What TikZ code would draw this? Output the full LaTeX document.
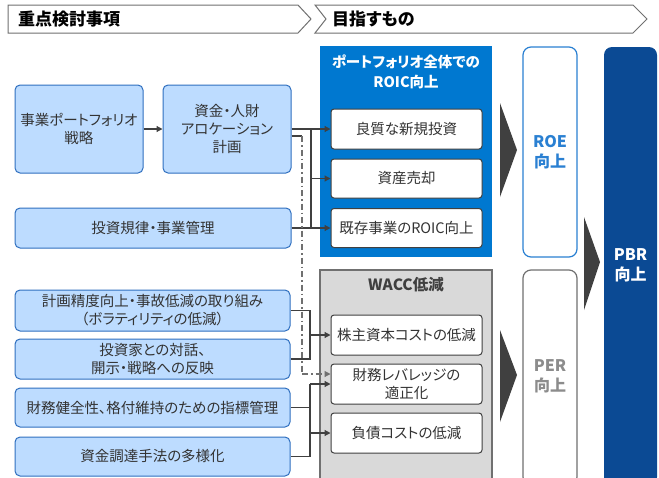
\documentclass[tikz,border=0pt]{standalone}
\usepackage{fontspec}
\setmainfont{Noto Sans CJK JP}[RawFeature=+palt]
\usetikzlibrary{arrows.meta,calc}
\definecolor{lbfill}{HTML}{BDDCFF}
\definecolor{lbdraw}{HTML}{2F6FBF}
\definecolor{panelblue}{HTML}{0078D0}
\definecolor{panelgray}{HTML}{D9D9D9}
\definecolor{graydraw}{HTML}{707070}
\definecolor{conncol}{HTML}{404040}
\definecolor{txtcol}{HTML}{333333}
\definecolor{pbrblue}{HTML}{0B4A94}
\definecolor{roeblue}{HTML}{2A80D2}
\begin{document}
\begin{tikzpicture}[x=1pt,y=-1pt,
  base/.style={inner sep=0pt,align=center,text=txtcol,font=\fontsize{14.5}{18}\selectfont},
  leftbox/.style={base,draw=lbdraw,fill=lbfill,line width=1pt,rounded corners=5pt},
  innerbox/.style={base,draw=conncol,fill=white,line width=1pt,rounded corners=3pt,minimum width=151pt},
  conn/.style={draw=conncol,line width=1.2pt},
  arr/.style={conn,-{Triangle[length=6pt,width=6pt]}},
  dd/.style={draw=graydraw,line width=1.1pt,dash pattern=on 6pt off 3pt on 1.5pt off 3pt},
  ttl/.style={inner sep=0pt,font=\fontsize{15}{19}\selectfont\bfseries,align=center},
  bigarr/.style={fill=conncol,draw=none}]
\useasboundingbox (0,0) rectangle (659,477);

% headers
\draw[draw=graydraw,fill=white,line width=1pt] (8,5) -- (298,5) -- (311,19) -- (298,33) -- (8,33) -- cycle;
\draw[draw=graydraw,fill=white,line width=1pt] (315,5) -- (633,5) -- (647,19) -- (633,33) -- (315,33) -- (326,19) -- cycle;
\node[ttl,anchor=west,text=black,font=\fontsize{17}{19}\selectfont\bfseries] (h1) at (18,19) {重点検討事項};
\node[ttl,anchor=west,text=black,font=\fontsize{17}{19}\selectfont\bfseries] (h2) at (332,19) {目指すもの};

% left boxes
\node[leftbox,minimum width=128pt,minimum height=88pt] (a1) at (79,129) {事業ポートフォリオ\\戦略};
\node[leftbox,minimum width=128pt,minimum height=88pt] (a2) at (227,129) {資金・人財\\アロケーション\\計画};
\node[leftbox,minimum width=276pt,minimum height=40pt] (a3) at (153,228) {投資規律・事業管理};
\node[leftbox,minimum width=275pt,minimum height=41pt] (b1) at (152.5,310.5) {計画精度向上・事故低減の取り組み\\（ボラティリティの低減）};
\node[leftbox,minimum width=275pt,minimum height=40pt] (b2) at (152.5,359) {投資家との対話、\\開示・戦略への反映};
\node[leftbox,minimum width=275pt,minimum height=39pt] (b3) at (152.5,407.5) {財務健全性、格付維持のための指標管理};
\node[leftbox,minimum width=275pt,minimum height=39pt] (b4) at (152.5,456.5) {資金調達手法の多様化};

% blue panel
\node[fill=panelblue,minimum width=172pt,minimum height=211pt,inner sep=0pt] (pb) at (406,151.5) {};
\node[ttl,text=white,font=\fontsize{14.5}{20}\selectfont\bfseries] (pbt) at (406,72) {ポートフォリオ全体での\\ROIC向上};
\node[innerbox,minimum height=40pt] (c1) at (406.5,129) {良質な新規投資};
\node[innerbox,minimum height=39pt] (c2) at (406.5,178.5) {資産売却};
\node[innerbox,minimum height=39pt] (c3) at (406.5,228) {既存事業のROIC向上};

% gray panel
\node[draw=graydraw,fill=panelgray,line width=1.2pt,minimum width=172pt,minimum height=212pt,inner sep=0pt] (pg) at (406,376) {};
\node[ttl,text=conncol,font=\fontsize{15.5}{19}\selectfont\bfseries] (pgt) at (406,285) {WACC低減};
\node[innerbox,minimum height=40pt] (d1) at (406.5,335) {株主資本コストの低減};
\node[innerbox,minimum height=40pt] (d2) at (406.5,384) {財務レバレッジの\\適正化};
\node[innerbox,minimum height=40pt] (d3) at (406.5,433) {負債コストの低減};

% right boxes
\node[draw=roeblue,fill=white,line width=1.2pt,rounded corners=8pt,minimum width=54pt,minimum height=210pt,inner sep=0pt] (roe) at (550,152) {};
\node[ttl,text=roeblue,font=\fontsize{16}{20}\selectfont\bfseries] (roet) at (550,152) {ROE\\向上};
\node[draw=graydraw,fill=white,line width=1.2pt,rounded corners=8pt,minimum width=54pt,minimum height=215pt,inner sep=0pt] (per) at (550,377.5) {};
\node[ttl,text=black!45,font=\fontsize{16}{20}\selectfont\bfseries] (pert) at (550,376) {PER\\向上};
\node[fill=pbrblue,rounded corners=8pt,minimum width=53pt,minimum height=438pt,inner sep=0pt] (pbr) at (630.5,266) {};
\node[ttl,text=white,font=\fontsize{16}{20}\selectfont\bfseries] (pbrt) at (630.5,265) {PBR\\向上};

% big arrows
\fill[bigarr] (500,103) -- (517,150) -- (500,197) -- cycle;
\fill[bigarr] (500,330) -- (517,375) -- (500,422) -- cycle;
\fill[bigarr] (584,217) -- (600,262) -- (584,310) -- cycle;

% connectors upper
\coordinate (j1) at (311,129);
\draw[arr] (a1) -- (a2);
\draw[arr] (a2.east) -- (c1.west);
\draw[arr] (a3.east) -- (c3.west);
\draw[conn] (j1) -- (j1 |- c3.west);
\draw[arr] (j1 |- c2.west) -- (c2.west);

% dash-dot connector
\coordinate (k1) at ([yshift=-7pt]a2.east);
\coordinate (k2) at (302,374);
\draw[conn] (k1) -- (k1 -| k2);
\draw[dd] (k1 -| k2) -- (k2);
\draw[dd,-{Triangle[length=6pt,width=6pt]}] (k2) -- ([yshift=10pt]d2.west);

% connectors lower
\coordinate (j2) at (310,335);
\draw[conn] (b1.east) -| (j2) |- (b2.east);
\draw[arr] (j2) -- (d1.west);
\coordinate (j3) at (310,384);
\draw[conn] (b4.east) -| (j3);
\draw[arr] (j3) -- (d2.west);
\draw[conn] (b3.east) -- (b3.east -| j3);
\draw[arr] (j3 |- d3.west) -- (d3.west);
\end{tikzpicture}
\end{document}
